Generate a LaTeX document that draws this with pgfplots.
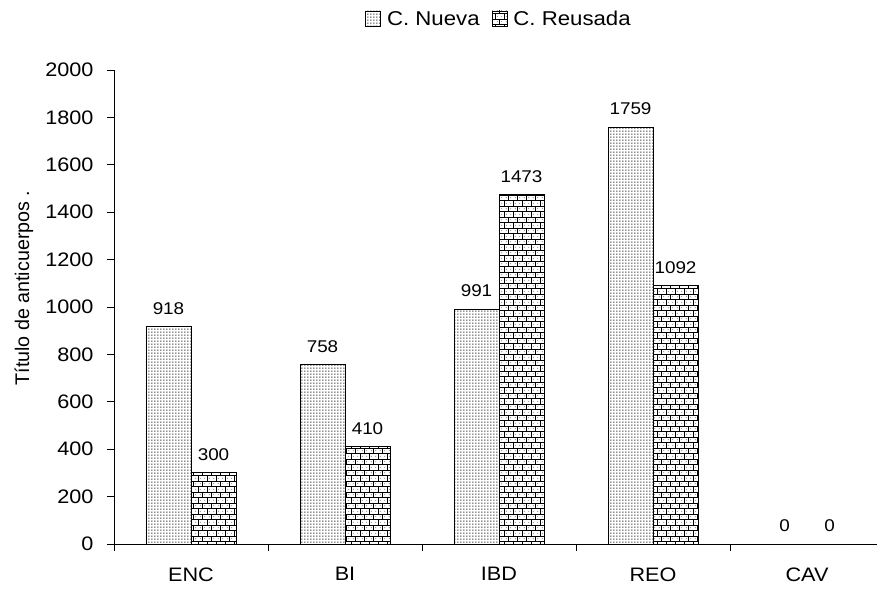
\documentclass[border=0pt]{standalone}
\usepackage{fontspec}
\setmainfont{Liberation Sans}[FakeStretch=1.11]
\newfontfamily\ylabfont{Liberation Sans}
\usepackage{pgfplots}
\pgfplotsset{compat=1.18}
\usetikzlibrary{patterns}
\pgfdeclarepatternformonly{mydots}{\pgfqpoint{0pt}{0pt}}{\pgfqpoint{2.7pt}{2.7pt}}{\pgfqpoint{2.7pt}{2.7pt}}{%
  \pgfpathrectangle{\pgfqpoint{0.5pt}{0.5pt}}{\pgfqpoint{1pt}{1pt}}\pgfusepath{fill}}
\pgfdeclarepatternformonly{mybricks}{\pgfqpoint{-0.5pt}{-0.5pt}}{\pgfqpoint{9.5pt}{11.5pt}}{\pgfqpoint{9pt}{11pt}}{%
  \pgfsetlinewidth{0.7pt}%
  \pgfpathmoveto{\pgfqpoint{0pt}{0pt}}\pgfpathlineto{\pgfqpoint{9pt}{0pt}}%
  \pgfpathmoveto{\pgfqpoint{0pt}{5.5pt}}\pgfpathlineto{\pgfqpoint{9pt}{5.5pt}}%
  \pgfpathmoveto{\pgfqpoint{0pt}{0pt}}\pgfpathlineto{\pgfqpoint{0pt}{5.5pt}}%
  \pgfpathmoveto{\pgfqpoint{4.5pt}{5.5pt}}\pgfpathlineto{\pgfqpoint{4.5pt}{11pt}}%
  \pgfusepath{stroke}%
  \pgfpathcircle{\pgfqpoint{2.25pt}{2.75pt}}{0.45pt}%
  \pgfpathcircle{\pgfqpoint{6.75pt}{2.75pt}}{0.45pt}%
  \pgfpathcircle{\pgfqpoint{2.25pt}{8.25pt}}{0.45pt}%
  \pgfpathcircle{\pgfqpoint{6.75pt}{8.25pt}}{0.45pt}%
  \pgfusepath{fill}}
\begin{document}
\begin{tikzpicture}
\useasboundingbox (-114pt,-47pt) rectangle (763pt,544pt);
\begin{axis}[
  scale only axis,
  width=770pt, height=474pt,
  ybar=0pt, bar width=45pt,
  xmin=-0.5, xmax=4.5,
  ymin=0, ymax=2000,
  ytick={0,200,...,2000},
  xtick={-0.5,0.5,...,4.5},
  xticklabels={ENC,BI,IBD,REO,CAV},
  x tick label as interval,
  axis x line=bottom, axis y line=left,
  axis line style={-, line width=0.8pt},
  tick style={line width=0.8pt, black},
  major tick length=7pt,
  tick align=outside,
  /pgf/number format/assume math mode=true,
  /pgf/number format/set thousands separator={},
  ticklabel style={font=\fontsize{19.5}{22}\selectfont},
  xticklabel style={yshift=-13pt},
  yticklabel style={xshift=-10pt},
  ylabel={\ylabfont Título de anticuerpos .},
  ylabel style={font=\fontsize{19.7}{22}\selectfont, at={(axis description cs:-0.1169,0.54)}, anchor=center},
  nodes near coords,
  every node near coord/.append style={font=\fontsize{17}{19}\selectfont, anchor=center, yshift=18pt, black},
  legend style={at={(rel axis cs:0.5,1.1076)}, anchor=center, draw=none, legend columns=2,
     font=\fontsize{20}{22}\selectfont,
     /tikz/every odd column/.append style={column sep=4pt},
     /tikz/every even column/.append style={column sep=10pt}},
  legend image code/.code={\draw[#1, line width=0.8pt] (0pt,-7pt) rectangle (15pt,8pt);},
]
\addplot[draw=black, line width=0.9pt, fill=white, postaction={pattern=mydots}] coordinates {(0,918) (1,758) (2,991) (3,1759) (4,0)};
\addplot[draw=black, line width=0.9pt, fill=white, postaction={pattern=mybricks}] coordinates {(0,300) (1,410) (2,1473) (3,1092) (4,0)};
\legend{C. Nueva, C. Reusada}
\end{axis}
\end{tikzpicture}
\end{document}
